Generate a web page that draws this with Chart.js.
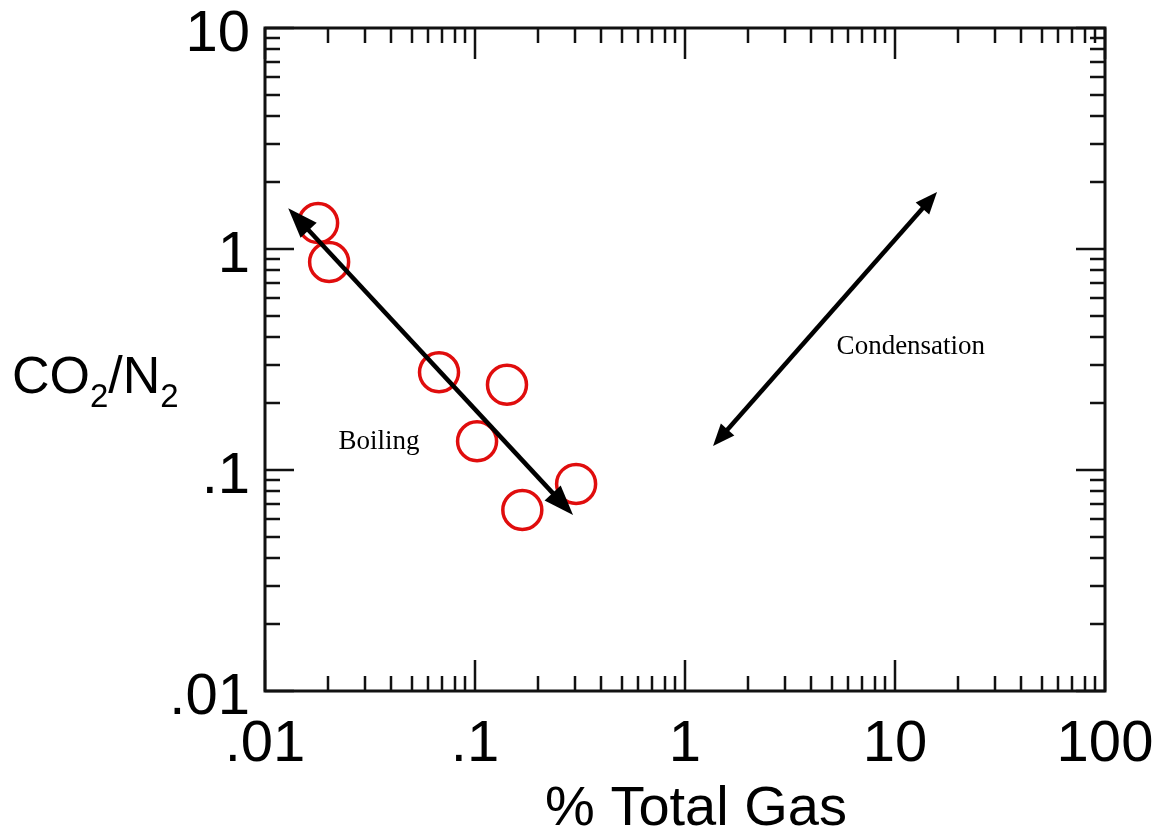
<!DOCTYPE html>
<html>
<head>
<meta charset="utf-8">
<script src="https://cdn.jsdelivr.net/npm/chart.js@4.4.0/dist/chart.umd.min.js"></script>
<style>
  html, body { margin: 0; padding: 0; background: #fff; }
  #wrap { width: 1161px; height: 831px; }
</style>
</head>
<body>
<div id="wrap"><canvas id="plot" width="1161" height="831"></canvas></div>
<script>
// muestras: % gas total vs CO2/N2
const totalGas = [0.0179, 0.0202, 0.0674, 0.142, 0.1023, 0.303, 0.168];
const co2n2 = [1.31, 0.873, 0.277, 0.243, 0.135, 0.0865, 0.0659];

// flechas de tendencia (extremos)
const boilingGas = [0.0129, 0.293];
const boilingRatio = [1.53, 0.0626];
const condGas = [1.36, 15.85];
const condRatio = [0.1285, 1.81];

// ejes
const xTickValues = [0.01, 0.1, 1, 10, 100];
const xTickLabels = [".01", ".1", "1", "10", "100"];
const yTickValues = [0.01, 0.1, 1, 10];
const yTickLabels = [".01", ".1", "1", "10"];

// notas
const notes = ["Boiling", "Condensation"];
const noteGas = [0.0349, 11.9];
const noteRatio = [0.134, 0.36];

const SANS = "'Liberation Sans', Arial, sans-serif";

function logTicks(min, max) {
    const out = [];
    for (let e = Math.round(Math.log10(min)); e < Math.round(Math.log10(max)); e++) {
        for (let k = 1; k <= 9; k++) out.push({ v: k * Math.pow(10, e), major: k === 1 });
    }
    out.push({ v: max, major: true });
    return out;
}

// ticks hacia adentro + marco
const axisDecor = {
    id: "axisDecor",
    beforeDatasetsDraw(chart) {
        const { ctx, chartArea: a, scales: { x, y } } = chart;
        ctx.save();
        ctx.strokeStyle = "#111";
        ctx.lineWidth = 2.5;
        ctx.beginPath();
        logTicks(x.min, x.max).forEach(t => {
            const px = Math.round(x.getPixelForValue(t.v));
            const len = t.major ? 31 : 15;
            ctx.moveTo(px, a.bottom); ctx.lineTo(px, a.bottom - len);
            ctx.moveTo(px, a.top); ctx.lineTo(px, a.top + len);
        });
        logTicks(y.min, y.max).forEach(t => {
            const py = Math.round(y.getPixelForValue(t.v));
            const len = t.major ? 29 : 15;
            ctx.moveTo(a.left, py); ctx.lineTo(a.left + len, py);
            ctx.moveTo(a.right, py); ctx.lineTo(a.right - len, py);
        });
        ctx.stroke();
        ctx.lineWidth = 3;
        ctx.strokeRect(a.left, a.top, a.right - a.left, a.bottom - a.top);
        ctx.restore();
    }
};

function head(ctx, from, to, len, half) {
    const dx = to.x - from.x, dy = to.y - from.y;
    const d = Math.hypot(dx, dy);
    const ux = dx / d, uy = dy / d;
    const bx = to.x - ux * len, by = to.y - uy * len;
    ctx.beginPath();
    ctx.moveTo(to.x, to.y);
    ctx.lineTo(bx - uy * half, by + ux * half);
    ctx.lineTo(bx + uy * half, by - ux * half);
    ctx.closePath();
    ctx.fill();
}

// flechas dobles usando los puntos ya escalados por Chart.js
const arrows = {
    id: "arrows",
    afterDatasetsDraw(chart) {
        const ctx = chart.ctx;
        chart.data.datasets.forEach((ds, i) => {
            if (!ds.arrow) return;
            const pts = chart.getDatasetMeta(i).data;
            const p0 = { x: pts[0].x, y: pts[0].y };
            const p1 = { x: pts[1].x, y: pts[1].y };
            const { len, half, width } = ds.arrow;
            const d = Math.hypot(p1.x - p0.x, p1.y - p0.y);
            const ux = (p1.x - p0.x) / d, uy = (p1.y - p0.y) / d;
            ctx.save();
            ctx.strokeStyle = "#000";
            ctx.fillStyle = "#000";
            ctx.lineWidth = width;
            ctx.beginPath();
            ctx.moveTo(p0.x + ux * (len - 4), p0.y + uy * (len - 4));
            ctx.lineTo(p1.x - ux * (len - 4), p1.y - uy * (len - 4));
            ctx.stroke();
            head(ctx, p1, p0, len, half);
            head(ctx, p0, p1, len, half);
            ctx.restore();
        });
    }
};

// textos: etiquetas de ticks, notas y titulos de ejes
const labels = {
    id: "labels",
    afterDraw(chart) {
        const { ctx, chartArea: a, scales: { x, y } } = chart;
        ctx.save();
        ctx.fillStyle = "#000";

        // etiquetas de ticks
        ctx.font = "58px " + SANS;
        ctx.textBaseline = "alphabetic";
        ctx.textAlign = "center";
        x.ticks.forEach((t, i) => {
            ctx.fillText(xTickLabels[i], x.getPixelForValue(t.value), a.bottom + 70);
        });
        ctx.textAlign = "right";
        y.ticks.forEach((t, i) => {
            ctx.fillText(yTickLabels[i], a.left - 15, y.getPixelForValue(t.value) + 23);
        });

        // notas
        ctx.font = "27px 'Liberation Serif', 'Times New Roman', serif";
        ctx.textAlign = "center";
        ctx.textBaseline = "middle";
        notes.forEach((t, i) => {
            ctx.fillText(t, x.getPixelForValue(noteGas[i]), y.getPixelForValue(noteRatio[i]));
        });

        // % Total Gas
        ctx.font = "56px " + SANS;
        ctx.textBaseline = "alphabetic";
        ctx.fillText("% Total Gas", 696, 825);

        // CO2/N2 con subindices
        ctx.textAlign = "left";
        let cx = 12;
        const parts = [["CO", 52, 393], ["2", 33, 407], ["/N", 52, 393], ["2", 33, 407]];
        parts.forEach(([s, size, base]) => {
            ctx.font = size + "px " + SANS;
            ctx.fillText(s, cx, base);
            cx += ctx.measureText(s).width;
        });
        ctx.restore();
    }
};

new Chart(document.getElementById("plot"), {
    type: "scatter",
    data: {
        datasets: [
            {
                label: "samples",
                data: totalGas.map((g, i) => ({ x: g, y: co2n2[i] })),
                pointStyle: "circle",
                pointRadius: 19.5,
                pointHoverRadius: 19.5,
                pointBorderWidth: 3.5,
                borderColor: "#e00d0d",
                backgroundColor: "rgba(0,0,0,0)"
            },
            {
                label: "Boiling",
                data: boilingGas.map((g, i) => ({ x: g, y: boilingRatio[i] })),
                pointRadius: 0,
                showLine: false,
                arrow: { len: 30, half: 11, width: 4.5 }
            },
            {
                label: "Condensation",
                data: condGas.map((g, i) => ({ x: g, y: condRatio[i] })),
                pointRadius: 0,
                showLine: false,
                arrow: { len: 22, half: 9, width: 4.5 }
            }
        ]
    },
    options: {
        responsive: false,
        animation: false,
        devicePixelRatio: 1,
        layout: { padding: { top: 28, right: 56, left: 0, bottom: 0 } },
        plugins: { legend: { display: false }, tooltip: { enabled: false } },
        scales: {
            x: {
                type: "logarithmic",
                min: 0.01,
                max: 100,
                afterBuildTicks: s => { s.ticks = xTickValues.map(v => ({ value: v })); },
                afterFit: s => { s.height = 140; },
                grid: { display: false, drawTicks: false },
                border: { display: false },
                ticks: { display: false }
            },
            y: {
                type: "logarithmic",
                min: 0.01,
                max: 10,
                afterBuildTicks: s => { s.ticks = yTickValues.map(v => ({ value: v })); },
                afterFit: s => { s.width = 265; },
                grid: { display: false, drawTicks: false },
                border: { display: false },
                ticks: { display: false }
            }
        }
    },
    plugins: [axisDecor, arrows, labels]
});
</script>
</body>
</html>
